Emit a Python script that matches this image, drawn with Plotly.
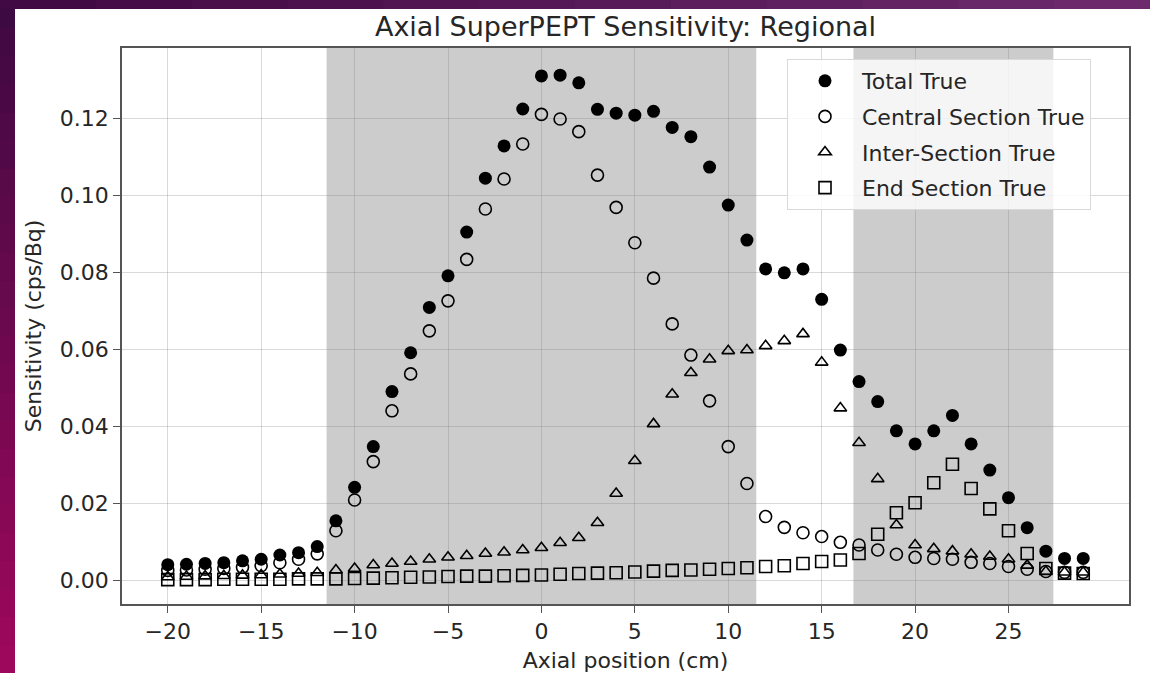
import plotly.graph_objects as go

# ---------------- data ----------------
axial_position = list(range(-20, 30))

total_true = [0.0040, 0.0041, 0.0043, 0.0045, 0.0050, 0.0054, 0.0065, 0.0071, 0.0087, 0.0154,
              0.0241, 0.0347, 0.0490, 0.0591, 0.0709, 0.0791, 0.0905, 0.1045, 0.1129, 0.1225,
              0.1311, 0.1313, 0.1293, 0.1224, 0.1214, 0.1209, 0.1219, 0.1177, 0.1153, 0.1074,
              0.0975, 0.0884, 0.0809, 0.0799, 0.0809, 0.0730, 0.0598, 0.0516, 0.0464, 0.0388,
              0.0354, 0.0388, 0.0428, 0.0354, 0.0286, 0.0214, 0.0136, 0.0075, 0.0056, 0.0056]

central_true = [0.0025, 0.0026, 0.0028, 0.0030, 0.0033, 0.0037, 0.0045, 0.0054, 0.0068, 0.0128,
                0.0208, 0.0308, 0.0440, 0.0536, 0.0648, 0.0726, 0.0834, 0.0965, 0.1043, 0.1134,
                0.1211, 0.1199, 0.1166, 0.1053, 0.0969, 0.0877, 0.0785, 0.0666, 0.0585, 0.0466,
                0.0347, 0.0251, 0.0165, 0.0137, 0.0123, 0.0113, 0.0098, 0.0091, 0.0078, 0.0067,
                0.0059, 0.0056, 0.0054, 0.0046, 0.0043, 0.0035, 0.0028, 0.0022, 0.0020, 0.0020]

inter_true = [0.0008, 0.0009, 0.0010, 0.0011, 0.0012, 0.0013, 0.0015, 0.0017, 0.0019, 0.0026,
              0.0030, 0.0039, 0.0043, 0.0048, 0.0054, 0.0059, 0.0063, 0.0069, 0.0072, 0.0078,
              0.0084, 0.0097, 0.0110, 0.0149, 0.0225, 0.0310, 0.0406, 0.0483, 0.0539, 0.0574,
              0.0596, 0.0598, 0.0609, 0.0622, 0.0640, 0.0566, 0.0447, 0.0357, 0.0263, 0.0143,
              0.0091, 0.0081, 0.0075, 0.0067, 0.0061, 0.0054, 0.0038, 0.0022, 0.0020, 0.0020]

end_true = [0.0001, 0.0001, 0.0001, 0.0002, 0.0002, 0.0002, 0.0002, 0.0003, 0.0003, 0.0003,
            0.0004, 0.0005, 0.0006, 0.0007, 0.0008, 0.0009, 0.0010, 0.0010, 0.0011, 0.0012,
            0.0013, 0.0015, 0.0017, 0.0018, 0.0019, 0.0021, 0.0023, 0.0025, 0.0026, 0.0028,
            0.0030, 0.0032, 0.0035, 0.0037, 0.0043, 0.0048, 0.0052, 0.0069, 0.0119, 0.0175,
            0.0201, 0.0253, 0.0301, 0.0238, 0.0185, 0.0128, 0.0069, 0.0030, 0.0018, 0.0017]

shaded_regions = [(-11.5, 11.5), (16.7, 27.4)]

series_names = ["Total True", "Central Section True", "Inter-Section True", "End Section True"]

# ---------------- figure ----------------
FONT = "DejaVu Sans"
TXT = "#262626"
FS = 22

fig = go.Figure()

styles = [
    dict(symbol="circle", size=13, color="black", line=dict(width=0)),
    dict(symbol="circle-open", size=12, color="black", line=dict(width=1.6)),
    dict(symbol="triangle-up-open", size=11, color="black", line=dict(width=1.6)),
    dict(symbol="square-open", size=12, color="black", line=dict(width=1.6)),
]
for i, (name, vals) in enumerate(zip(series_names, [total_true, central_true, inter_true, end_true])):
    fig.add_trace(go.Scatter(
        x=axial_position, y=vals, mode="markers", name=name,
        marker=styles[i], legendgroup=f"g{i}",
    ))

shapes = []
for x0, x1 in shaded_regions:
    shapes.append(dict(type="rect", xref="x", yref="paper", x0=x0, x1=x1, y0=0, y1=1,
                       fillcolor="#cccccc", line=dict(width=0), layer="below"))

# purple page border (left strip gradient + top strip)
W, H = 1150, 673
ML, MR, MT, MB = 122, 21, 48, 69
pw, ph = W - ML - MR, H - MT - MB

def px2x(px):
    return (px - ML) / pw

def py2y(py):
    return (H - MB - py) / ph

n = 24
c_top = (62, 10, 66)
c_bot = (158, 8, 92)
for k in range(n):
    t = k / (n - 1)
    col = tuple(int(c_top[j] + (c_bot[j] - c_top[j]) * t) for j in range(3))
    shapes.append(dict(type="rect", xref="paper", yref="paper",
                       x0=px2x(0), x1=px2x(15),
                       y0=py2y(H * (k + 1) / n + 1), y1=py2y(H * k / n),
                       fillcolor=f"rgb{col}", line=dict(width=0), layer="above"))
m = 12
c_l = (66, 10, 68)
c_r = (108, 42, 108)
for k in range(m):
    t = k / (m - 1)
    col = tuple(int(c_l[j] + (c_r[j] - c_l[j]) * t) for j in range(3))
    shapes.append(dict(type="rect", xref="paper", yref="paper",
                       x0=px2x(W * k / m), x1=px2x(W * (k + 1) / m + 1),
                       y0=py2y(9), y1=py2y(0),
                       fillcolor=f"rgb{col}", line=dict(width=0), layer="above"))

fig.update_layout(
    width=W, height=H,
    margin=dict(l=ML, r=MR, t=MT, b=MB, pad=0, autoexpand=False),
    paper_bgcolor="white", plot_bgcolor="white",
    font=dict(family=FONT, size=FS, color=TXT),
    title=dict(text="Axial SuperPEPT Sensitivity: Regional", x=(ML + pw / 2) / W, xanchor="center",
               y=1 - 27 / H, yanchor="middle", yref="container",
               font=dict(family=FONT, size=27, color=TXT)),
    showlegend=True,
    legend=dict(x=px2x(787), xanchor="left", y=py2y(59), yanchor="top",
                bgcolor="rgba(255,255,255,0.8)", bordercolor="#d9d9d9", borderwidth=1,
                font=dict(family=FONT, size=FS, color=TXT),
                itemwidth=64, tracegroupgap=4),
    shapes=shapes,
)

fig.update_xaxes(
    range=[-22.45, 31.45], tickmode="array", tickvals=[-20, -15, -10, -5, 0, 5, 10, 15, 20, 25],
    showgrid=True, gridcolor="rgba(128,128,128,0.3)", gridwidth=1, automargin=False,
    zeroline=False, showline=True, mirror=True, linecolor="#555555", linewidth=1.5,
    ticks="outside", ticklen=7, tickcolor="#555555", tickwidth=1.2,
    title=dict(text="Axial position (cm)", font=dict(family=FONT, size=FS, color=TXT), standoff=14),
)
fig.update_yaxes(
    range=[-0.00624, 0.13836], tickmode="array",
    tickvals=[0.0, 0.02, 0.04, 0.06, 0.08, 0.10, 0.12], tickformat=".2f",
    showgrid=True, gridcolor="rgba(128,128,128,0.3)", gridwidth=1, automargin=False,
    zeroline=False, showline=True, mirror=True, linecolor="#555555", linewidth=1.5,
    ticks="outside", ticklen=7, tickcolor="#555555", tickwidth=1.2,
    title=dict(text="Sensitivity (cps/Bq)", font=dict(family=FONT, size=FS, color=TXT), standoff=12),
)

fig.write_html("out.html")
